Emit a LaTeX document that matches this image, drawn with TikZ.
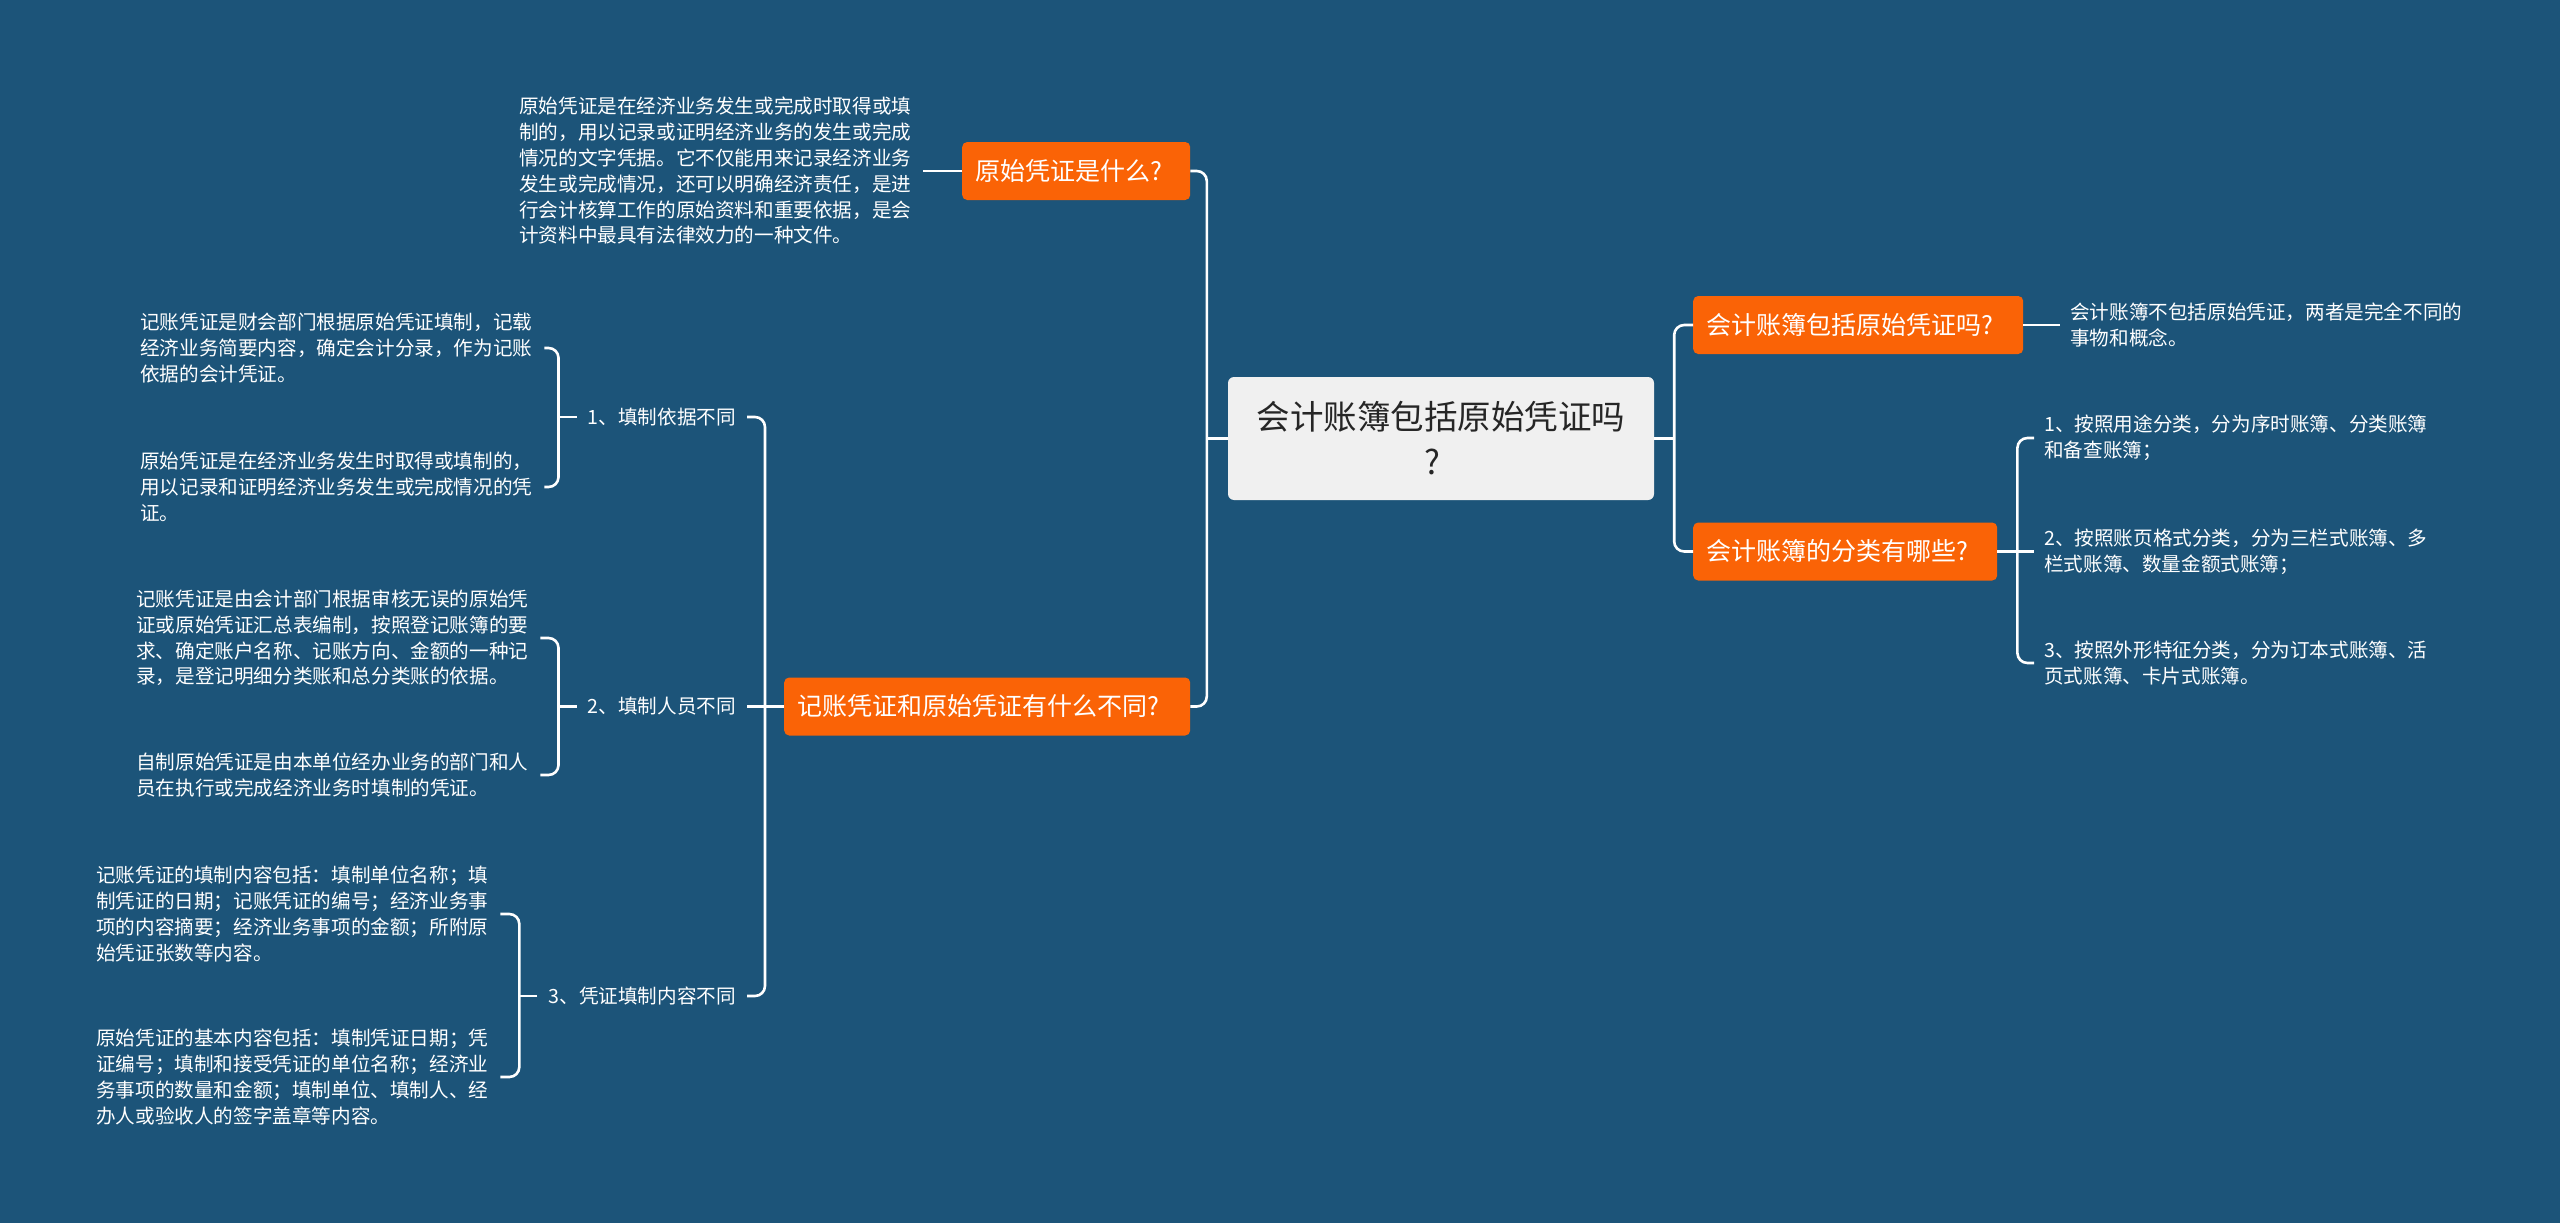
\documentclass[tikz,border=0pt]{standalone}
\usepackage{fontspec}
\setmainfont{Noto Sans CJK SC}
\usetikzlibrary{calc}
\definecolor{bgblue}{RGB}{28,84,121}
\definecolor{qorange}{RGB}{250,99,6}
\definecolor{cfill}{RGB}{240,240,240}
\definecolor{ctext}{RGB}{38,38,38}
\begin{document}
\begin{tikzpicture}[x=1pt,y=-1pt,
  conn/.style={draw=white, line width=2.6pt, rounded corners=10pt},
  qbox/.style={fill=qorange, rounded corners=5pt, text=white, font=\fontsize{25}{30}\selectfont, inner xsep=13pt, inner ysep=0pt, minimum height=58pt, align=left, anchor=west},
  leaf/.style={text=white, font=\fontsize{19.6}{25.8}\selectfont, inner xsep=10pt, inner ysep=0pt, text width=394pt, align=left, anchor=west},
  sub/.style={text=white, font=\fontsize{19.6}{24}\selectfont, inner xsep=11pt, inner ysep=0pt, anchor=east},
  centre/.style={fill=cfill, rounded corners=6pt, text=ctext, font=\fontsize{33.5}{45}\selectfont, minimum width=426pt, minimum height=123pt, align=center, inner sep=0pt}
]
\fill[bgblue] (0,0) rectangle (2560,1223);
\path[use as bounding box] (0,0) rectangle (2560,1223);

% centre
\node[centre] (C) at (1441,438.5) {会计账簿包括原始凭证吗\\?\kern17pt};

% first level
\node[qbox, text width=202pt] (Q1) at (962,171) {原始凭证是什么?};
\node[qbox, text width=380pt] (Q2) at (784,706.5) {记账凭证和原始凭证有什么不同?};
\node[qbox, text width=304pt] (R1) at (1693,325) {会计账簿包括原始凭证吗?};
\node[qbox, text width=278pt] (R2) at (1693,551.5) {会计账簿的分类有哪些?};

% leaves of Q1
\node[leaf] (L0) at (509,171) {原始凭证是在经济业务发生或完成时取得或填\\制的，用以记录或证明经济业务的发生或完成\\情况的文字凭据。它不仅能用来记录经济业务\\发生或完成情况，还可以明确经济责任，是进\\行会计核算工作的原始资料和重要依据，是会\\计资料中最具有法律效力的一种文件。};

% sub labels of Q2
\node[sub] (S1) at (747,417) {1、填制依据不同};
\node[sub] (S2) at (747,706.5) {2、填制人员不同};
\node[sub] (S3) at (747,996) {3、凭证填制内容不同};

% leaves of S1..S3
\node[leaf] (L1a) at (130,348) {记账凭证是财会部门根据原始凭证填制，记载\\经济业务简要内容，确定会计分录，作为记账\\依据的会计凭证。};
\node[leaf] (L1b) at (130,487) {原始凭证是在经济业务发生时取得或填制的，\\用以记录和证明经济业务发生或完成情况的凭\\证。};
\node[leaf] (L2a) at (126,638) {记账凭证是由会计部门根据审核无误的原始凭\\证或原始凭证汇总表编制，按照登记账簿的要\\求、确定账户名称、记账方向、金额的一种记\\录，是登记明细分类账和总分类账的依据。};
\node[leaf] (L2b) at (126,775) {自制原始凭证是由本单位经办业务的部门和人\\员在执行或完成经济业务时填制的凭证。};
\node[leaf] (L3a) at (86,914) {记账凭证的填制内容包括：填制单位名称；填\\制凭证的日期；记账凭证的编号；经济业务事\\项的内容摘要；经济业务事项的金额；所附原\\始凭证张数等内容。};
\node[leaf] (L3b) at (86,1077) {原始凭证的基本内容包括：填制凭证日期；凭\\证编号；填制和接受凭证的单位名称；经济业\\务事项的数量和金额；填制单位、填制人、经\\办人或验收人的签字盖章等内容。};

% right leaves
\node[leaf] (R1L) at (2060,325) {会计账簿不包括原始凭证，两者是完全不同的\\事物和概念。};
\node[leaf] (R2a) at (2034,438) {1、按照用途分类，分为序时账簿、分类账簿\\和备查账簿；};
\node[leaf] (R2b) at (2034,551.5) {2、按照账页格式分类，分为三栏式账簿、多\\栏式账簿、数量金额式账簿；};
\node[leaf] (R2c) at (2034,663) {3、按照外形特征分类，分为订本式账簿、活\\页式账簿、卡片式账簿。};

% main trunks
\coordinate (LJ) at ($(C.west)+(-21,0)$);
\draw[conn] (Q1.east) -| (LJ) |- (Q2.east);
\draw[conn] (C.west) -- (LJ);
\coordinate (RJ) at ($(C.east)+(20,0)$);
\draw[conn] (R1.west) -| (RJ) |- (R2.west);
\draw[conn] (C.east) -- (RJ);

% Q1 and R1 leaves
\draw[conn] (Q1.west) -- (L0.east);
\draw[conn] (R1.east) -- (R1L.west);

% Q2 subtree
\coordinate (SJ) at ($(Q2.west)+(-19,0)$);
\draw[conn] (S1.east) -| (SJ) |- (S3.east);
\draw[conn] (Q2.west) -- (S2.east);

% brackets
\coordinate (B1) at ($(S1.west)+(-18,0)$);
\draw[conn] (L1a.east) -| (B1) |- (L1b.east);
\draw[conn] (S1.west) -- (B1);
\coordinate (B2) at ($(S2.west)+(-18,0)$);
\draw[conn] (L2a.east) -| (B2) |- (L2b.east);
\draw[conn] (S2.west) -- (B2);
\coordinate (B3) at ($(S3.west)+(-18,0)$);
\draw[conn] (L3a.east) -| (B3) |- (L3b.east);
\draw[conn] (S3.west) -- (B3);

% R2 bracket
\coordinate (RB) at ($(R2.east)+(20,0)$);
\draw[conn] (R2a.west) -| (RB) |- (R2c.west);
\draw[conn] (R2.east) -- (R2b.west);
\end{tikzpicture}
\end{document}
